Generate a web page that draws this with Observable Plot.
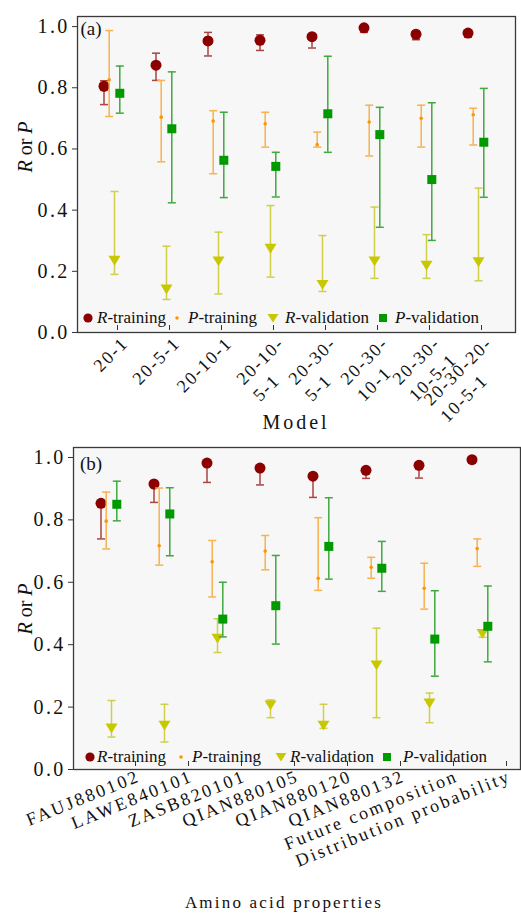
<!DOCTYPE html>
<html><head><meta charset="utf-8">
<script src="https://cdn.jsdelivr.net/npm/d3@7"></script>
<script src="https://cdn.jsdelivr.net/npm/@observablehq/plot@0.6"></script>
<style>
body{margin:0;background:#fff;}
#wrap{position:relative;width:521px;height:917px;font-family:"Liberation Serif","Times New Roman",serif;color:#111;overflow:hidden;}
#wrap svg{position:absolute;left:0;}
#wrap svg, #wrap svg text{font-family:"Liberation Serif","Times New Roman",serif !important;}
.ov{position:absolute;white-space:nowrap;line-height:1;font-family:"Liberation Serif","Times New Roman",serif;}
.c{transform:translate(-50%,-50%);}
g[aria-label="y-axis tick label"] text{letter-spacing:2.3px;}
.pa g[aria-label="x-axis tick label"] text{letter-spacing:1.8px;}
.pb g[aria-label="x-axis tick label"] text{letter-spacing:2.5px;}
</style></head><body><div id="wrap"></div>
<script>
// ---------- Panel (a): models ----------
const modelsA = ["20-1","20-5-1","20-10-1","20-10-5-1","20-30-5-1","20-30-10-1","20-30-10-5-1","20-30-20-10-5-1"];
const modelLabelsA = ["20-1","20-5-1","20-10-1","20-10-\n5-1","20-30-\n5-1","20-30-\n10-1","20-30-\n10-5-1","20-30-20-\n10-5-1"];
const rTrainA   = [0.805,0.874,0.953,0.955,0.967,0.996,0.975,0.979];
const rTrainALo = [0.745,0.824,0.904,0.922,0.930,0.981,0.957,0.965];
const rTrainAHi = [0.823,0.913,0.981,0.973,0.972,1.000,0.985,0.985];
const pTrainA   = [0.826,0.704,0.691,0.682,0.614,0.688,0.700,0.712];
const pTrainALo = [0.706,0.558,0.519,0.606,0.606,0.577,0.606,0.613];
const pTrainAHi = [0.987,0.824,0.725,0.720,0.655,0.743,0.743,0.733];
const rValA     = [0.237,0.143,0.235,0.276,0.158,0.235,0.221,0.232];
const rValALo   = [0.190,0.108,0.126,0.181,0.134,0.177,0.177,0.169];
const rValAHi   = [0.461,0.282,0.328,0.415,0.317,0.410,0.320,0.472];
const pValA     = [0.782,0.666,0.563,0.543,0.715,0.647,0.500,0.622];
const pValALo   = [0.717,0.424,0.441,0.443,0.589,0.344,0.301,0.442];
const pValAHi   = [0.871,0.852,0.720,0.589,0.903,0.736,0.751,0.798];

// ---------- Panel (b): amino acid properties ----------
const propsB = ["FAUJ880102","LAWE840101","ZASB820101","QIAN880105","QIAN880120","QIAN880132","Future composition","Distribution probability"];
const rTrainB   = [0.853,0.915,0.982,0.966,0.940,0.959,0.975,0.993];
const rTrainBLo = [0.739,0.856,0.920,0.912,0.872,0.933,0.934,0.982];
const rTrainBHi = [0.860,0.920,0.985,0.970,0.945,0.965,0.980,0.997];
const pTrainB   = [0.796,0.717,0.666,0.700,0.613,0.648,0.581,0.708];
const pTrainBLo = [0.707,0.655,0.553,0.640,0.574,0.613,0.514,0.651];
const pTrainBHi = [0.889,0.902,0.734,0.750,0.807,0.680,0.661,0.739];
const rValB     = [0.134,0.143,0.422,0.208,0.143,0.336,0.214,0.437];
const rValBLo   = [0.104,0.088,0.375,0.166,0.132,0.166,0.150,0.424];
const rValBHi   = [0.221,0.209,0.483,0.223,0.209,0.453,0.245,0.444];
const pValB     = [0.850,0.819,0.482,0.525,0.715,0.645,0.418,0.459];
const pValBLo   = [0.797,0.685,0.425,0.402,0.610,0.571,0.299,0.345];
const pValBHi   = [0.924,0.903,0.600,0.686,0.871,0.731,0.573,0.588];

const seriesNames = ["R-training","P-training","R-validation","P-validation"];
const yTicks = [0,0.2,0.4,0.6,0.8,1.0];

// ---------- symbols ----------
const capSym = {draw(ctx,size){const w=Math.sqrt(size/Math.PI);ctx.moveTo(-w,0);ctx.lineTo(w,0);}};
const squareSym = {draw(ctx,size){const s=Math.sqrt(size/Math.PI);ctx.rect(-s,-s,2*s,2*s);}};
const triDownSym = {draw(ctx,size){const s=Math.sqrt(size/Math.PI);ctx.moveTo(-s,-s*0.7);ctx.lineTo(s,-s*0.7);ctx.lineTo(0,s*0.95);ctx.closePath();}};

const styles = [
  {color:"#8b0000", err:"#a94545", symbol:"circle", r:5.5, dx:-10.5},
  {color:"#ff9500", err:"#f8b24e", symbol:"circle", r:1.8, dx:-5.3},
  {color:"#c8c800", err:"#cfcf4a", symbol:triDownSym, r:6, dx:0},
  {color:"#009a00", err:"#3fa93f", symbol:squareSym, r:4.5, dx:5.3}
];

function rowsOf(cats, mean, lo, hi){
  return cats.map((c,i)=>({cat:c, mean:mean[i], lo:lo[i], hi:hi[i]}));
}

const FONT = "Liberation Serif, Times New Roman, serif";

function panel(cats, labels, series, o){
  const marks = [Plot.frame({fill:"#f7f7f7", stroke:"none"})];
  series.forEach((rows,k)=>{
    const s = styles[k];
    marks.push(Plot.ruleX(rows,{x:"cat", y1:"lo", y2:"hi", dx:s.dx, stroke:s.err, strokeWidth:1.5}));
    marks.push(Plot.dot(rows,{x:"cat", y:"lo", dx:s.dx, symbol:capSym, r:4, stroke:s.err, strokeWidth:1.5, fill:"none"}));
    marks.push(Plot.dot(rows,{x:"cat", y:"hi", dx:s.dx, symbol:capSym, r:4, stroke:s.err, strokeWidth:1.5, fill:"none"}));
    marks.push(Plot.dot(rows,{x:"cat", y:"mean", dx:s.dx, symbol:s.symbol, r:s.r, fill:s.color, stroke:"none"}));
  });
  marks.push(Plot.frame({stroke:"#3a3a3a", strokeWidth:1.3}));
  marks.push(Plot.axisY({ticks:yTicks, tickFormat:d=>d.toFixed(1), tickSize:5, tickPadding:3, fontSize:20, label:null, stroke:"#333", fill:"#111"}));
  marks.push(Plot.axisX({tickSize:5, tickPadding:o.tickPadding, tickRotate:o.rotate, textAnchor:"end", lineAnchor:"top",
    lineHeight:o.lineHeight, dx:o.ldx, dy:o.ldy, fontSize:18, label:null, stroke:"#333", fill:"#111",
    tickFormat:d=>labels[cats.indexOf(d)]}));
  return Plot.plot({
    width:521, height:o.height,
    marginLeft:o.ml, marginRight:o.mr, marginTop:o.mt, marginBottom:o.mb,
    x:{type:"point", domain:cats, padding:o.pad, label:null},
    y:{domain:[0,o.ymax], label:null},
    style:{fontFamily:FONT, background:"transparent", overflow:"visible"},
    marks
  });
}

const wrap = document.getElementById("wrap");

const svgA = panel(modelsA, modelLabelsA, [
  rowsOf(modelsA,rTrainA,rTrainALo,rTrainAHi),
  rowsOf(modelsA,pTrainA,pTrainALo,pTrainAHi),
  rowsOf(modelsA,rValA,rValALo,rValAHi),
  rowsOf(modelsA,pValA,pValALo,pValAHi)
], {height:440, ml:77, mr:6, mt:16, mb:108, pad:0.7, ymax:1.033, rotate:-45, lineHeight:1.3, tickPadding:2, ldx:3, ldy:-7});
svgA.classList.add("pa");
svgA.style.top = "0px";
wrap.appendChild(svgA);

const svgB = panel(propsB, propsB, [
  rowsOf(propsB,rTrainB,rTrainBLo,rTrainBHi),
  rowsOf(propsB,pTrainB,pTrainBLo,pTrainBHi),
  rowsOf(propsB,rValB,rValBLo,rValBHi),
  rowsOf(propsB,pValB,pValBLo,pValBHi)
], {height:477, ml:73, mr:1, mt:7, mb:148, pad:0.69, ymax:1.032, rotate:-22, lineHeight:1.2, tickPadding:0, ldx:24, ldy:-8});
svgB.classList.add("pb");
svgB.style.top = "440px";
wrap.appendChild(svgB);

// left-align multi-line tick labels within their (right-anchored) block
svgA.querySelectorAll('g[aria-label="x-axis tick label"] text').forEach(t=>{
  const spans = t.querySelectorAll("tspan");
  if (spans.length < 2) return;
  const L = Math.max(...Array.from(spans, s=>s.getComputedTextLength()));
  t.setAttribute("text-anchor","start");
  spans.forEach(s=>s.setAttribute("x", -L));
});

// ---------- overlays: panel tags, axis titles, legends ----------
function ov(html, x, y, css, center=true){
  const d = document.createElement("div");
  d.className = "ov" + (center ? " c" : "");
  d.style.left = x + "px"; d.style.top = y + "px";
  d.style.cssText += css;
  d.innerHTML = html;
  wrap.appendChild(d);
  return d;
}
ov("(a)", 91, 28, "font-size:19px;");
ov("(b)", 91, 463, "font-size:19px;");
ov("<i>R</i> or <i>P</i>", 25, 147, "font-size:20px;transform:translate(-50%,-50%) rotate(-90deg);");
ov("<i>R</i> or <i>P</i>", 25, 609, "font-size:20px;transform:translate(-50%,-50%) rotate(-90deg);");
ov("Model", 296, 422, "font-size:20px;letter-spacing:3px;");
ov("Amino acid properties", 284, 902, "font-size:17px;letter-spacing:2.2px;");

const legendSyms = [
  '<svg width="12" height="12" style="position:absolute;left:-6px;top:-6px"><circle cx="6" cy="6" r="4.6" fill="#8b0000"/></svg>',
  '<svg width="12" height="12" style="position:absolute;left:-6px;top:-6px"><circle cx="6" cy="6" r="1.8" fill="#ff9500"/></svg>',
  '<svg width="12" height="12" style="position:absolute;left:-6px;top:-6px"><path d="M0.5,2 L11.5,2 L6,10.5 Z" fill="#c8c800"/></svg>',
  '<svg width="12" height="12" style="position:absolute;left:-6px;top:-6px"><rect x="2" y="2" width="8" height="8" fill="#009a00"/></svg>'
];
const legendLabels = ["<i>R</i>-training","<i>P</i>-training","<i>R</i>-validation","<i>P</i>-validation"];
function legend(y, symX, textX){
  seriesNames.forEach((n,i)=>{
    ov(legendSyms[i], symX[i], y, "", false);
    ov(legendLabels[i], textX[i], y-9, "font-size:17px;line-height:18px;", false);
  });
}
legend(318, [88,177,273,383], [97,188,285,395]);
legend(757, [90,181,281,387], [97,192,290,403]);
</script></body></html>
